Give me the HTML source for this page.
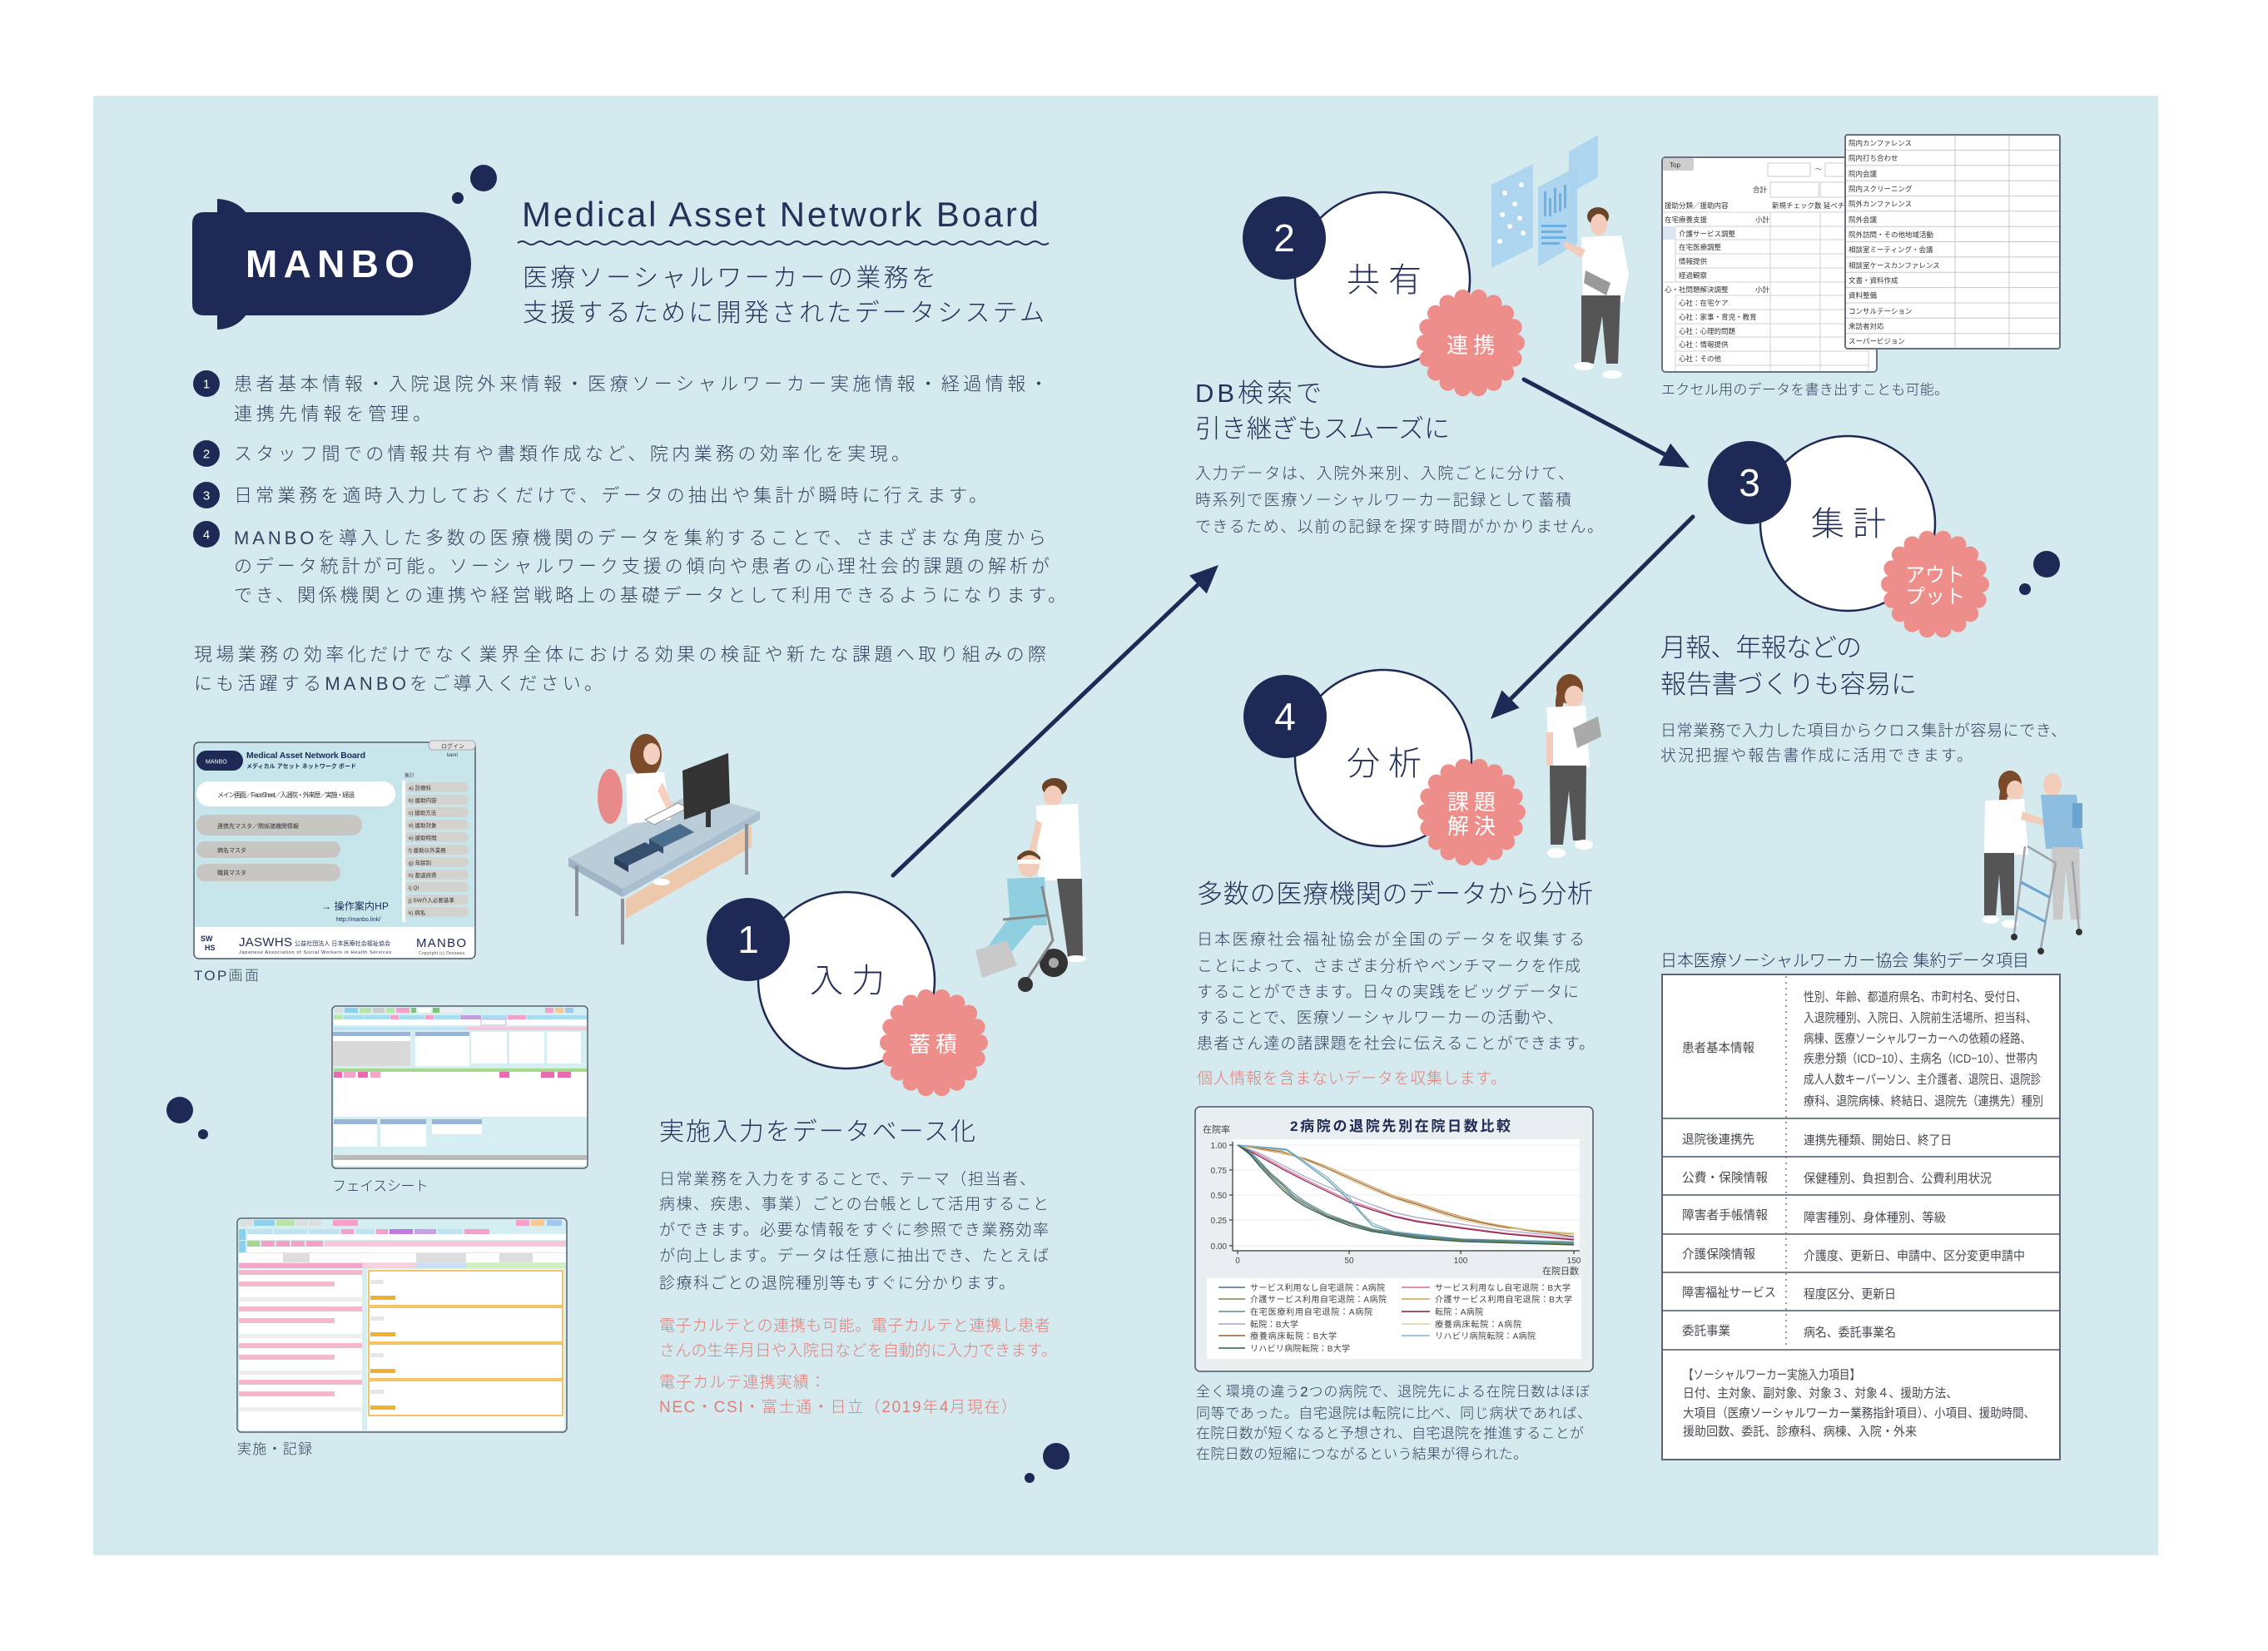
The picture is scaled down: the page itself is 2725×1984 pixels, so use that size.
<!DOCTYPE html>
<html lang="ja">
<head>
<meta charset="utf-8">
<title>MANBO - Medical Asset Network Board</title>
<style>
html,body{margin:0;padding:0;background:#fff;}
body{width:2725px;height:1979px;overflow:hidden;}
svg text{font-family:"Liberation Sans","Noto Sans CJK JP",sans-serif;}
.h{fill:#26315a;font-size:31px;font-weight:300;}
.b{fill:#34405e;font-size:19px;font-weight:300;}
.l{fill:#34405e;font-size:22px;font-weight:300;}
.p{fill:#e07f7b;font-size:19px;font-weight:300;}
.t{fill:#474b52;font-size:15px;}
.c{fill:#26315a;font-size:40px;font-weight:300;}
.w{fill:#fff;font-size:26px;}
.n{fill:#fff;font-size:46px;font-family:"Liberation Sans",sans-serif;}
.s{fill:#333;font-size:8.5px;}
.g{fill:#444;font-size:10px;}
</style>
</head>
<body>
<svg xmlns="http://www.w3.org/2000/svg" width="2725" height="1979" viewBox="0 0 2725 1979">
<defs>
<g id="badge" fill="#ee8e8b">
<circle r="57"/>
<circle cx="55" cy="0" r="10"/><circle cx="51.68" cy="18.81" r="10"/><circle cx="42.13" cy="35.35" r="10"/>
<circle cx="27.5" cy="47.63" r="10"/><circle cx="9.55" cy="54.16" r="10"/><circle cx="-9.55" cy="54.16" r="10"/>
<circle cx="-27.5" cy="47.63" r="10"/><circle cx="-42.13" cy="35.35" r="10"/><circle cx="-51.68" cy="18.81" r="10"/>
<circle cx="-55" cy="0" r="10"/><circle cx="-51.68" cy="-18.81" r="10"/><circle cx="-42.13" cy="-35.35" r="10"/>
<circle cx="-27.5" cy="-47.63" r="10"/><circle cx="-9.55" cy="-54.16" r="10"/><circle cx="9.55" cy="-54.16" r="10"/>
<circle cx="27.5" cy="-47.63" r="10"/><circle cx="42.13" cy="-35.35" r="10"/><circle cx="51.68" cy="-18.81" r="10"/>
</g>
</defs>

<!-- background panel -->
<rect x="0" y="0" width="2725" height="1979" fill="#ffffff"/>
<rect x="112" y="115" width="2481" height="1754" fill="#d4eaee"/>

<!-- ===== LOGO ===== -->
<path d="M245,255 L504,255 A62,62 0 0 1 504,379 L245,379 Q231,379 231,365 L231,269 Q231,255 245,255 Z" fill="#1e2a55"/>
<path d="M261,256 L261,239 Q284,240 296,256 Z" fill="#1e2a55"/>
<path d="M261,378 L261,396 Q284,395 296,378 Z" fill="#1e2a55"/>
<text x="295" y="333" font-size="46" font-weight="bold" fill="#ffffff" textLength="203" lengthAdjust="spacing" style="font-family:'Liberation Sans',sans-serif">MANBO</text>
<circle cx="581" cy="214" r="16" fill="#1e2a55"/>
<circle cx="550" cy="238" r="7" fill="#1e2a55"/>

<text x="627" y="272" font-size="42" fill="#26315a" textLength="621" lengthAdjust="spacing" style="font-family:'Liberation Sans',sans-serif">Medical Asset Network Board</text>
<path d="M622,292 q5.5,-4 11,0 t11,0 t11,0 t11,0 t11,0 t11,0 t11,0 t11,0 t11,0 t11,0 t11,0 t11,0 t11,0 t11,0 t11,0 t11,0 t11,0 t11,0 t11,0 t11,0 t11,0 t11,0 t11,0 t11,0 t11,0 t11,0 t11,0 t11,0 t11,0 t11,0 t11,0 t11,0 t11,0 t11,0 t11,0 t11,0 t11,0 t11,0 t11,0 t11,0 t11,0 t11,0 t11,0 t11,0 t11,0 t11,0 t11,0 t11,0 t11,0 t11,0 t11,0 t11,0 t11,0 t11,0 t11,0 t11,0 t11,0 t11,0" fill="none" stroke="#26315a" stroke-width="2"/>
<text x="628" y="344" class="h" style="font-size:30px" textLength="497">医療ソーシャルワーカーの業務を</text>
<text x="628" y="386" class="h" style="font-size:30px" textLength="627">支援するために開発されたデータシステム</text>

<!-- list -->
<g fill="#1e2a55">
<circle cx="248" cy="461" r="16"/><circle cx="248" cy="545" r="16"/><circle cx="248" cy="595" r="16"/><circle cx="248" cy="642" r="16"/>
</g>
<g font-size="15" fill="#fff" text-anchor="middle" style="font-family:'Liberation Sans',sans-serif">
<text x="248" y="466.5">1</text><text x="248" y="550.5">2</text><text x="248" y="600.5">3</text><text x="248" y="647.5">4</text>
</g>
<text x="281" y="469" class="l" textLength="978">患者基本情報・入院退院外来情報・医療ソーシャルワーカー実施情報・経過情報・</text>
<text x="281" y="505" class="l" textLength="237">連携先情報を管理。</text>
<text x="281" y="553" class="l" textLength="812">スタッフ間での情報共有や書類作成など、院内業務の効率化を実現。</text>
<text x="281" y="603" class="l" textLength="905">日常業務を適時入力しておくだけで、データの抽出や集計が瞬時に行えます。</text>
<text x="281" y="654" class="l" textLength="976">MANBOを導入した多数の医療機関のデータを集約することで、さまざまな角度から</text>
<text x="281" y="688" class="l" textLength="980">のデータ統計が可能。ソーシャルワーク支援の傾向や患者の心理社会的課題の解析が</text>
<text x="281" y="723" class="l" textLength="1000">でき、関係機関との連携や経営戦略上の基礎データとして利用できるようになります。</text>
<text x="233" y="794" class="l" textLength="1024">現場業務の効率化だけでなく業界全体における効果の検証や新たな課題へ取り組みの際</text>
<text x="233" y="829" class="l" textLength="491">にも活躍するMANBOをご導入ください。</text>

<!-- ===== TOP SCREEN ===== -->
<g>
<rect x="233" y="892" width="338" height="260" rx="6" fill="#c6e6eb" stroke="#555c6a" stroke-width="1.5"/>
<path d="M234,1114 L570,1114 L570,1146 Q570,1151 565,1151 L239,1151 Q234,1151 234,1146 Z" fill="#ffffff"/>
<rect x="236" y="902" width="56" height="24" rx="12" fill="#1e2a55"/>
<text x="247" y="917.5" font-size="7" fill="#fff">MANBO</text>
<text x="296" y="911" font-size="10.5" font-weight="bold" fill="#1e2a55" textLength="143">Medical Asset Network Board</text>
<text x="296" y="923" font-size="7" font-weight="bold" fill="#1e2a55" textLength="132">メディカル アセット ネットワーク ボード</text>
<rect x="515" y="890" width="56" height="11" rx="5" fill="#e4e4e4" stroke="#999" stroke-width="0.8"/>
<text x="530" y="899" font-size="7" fill="#333">ログイン</text>
<text x="537" y="909" font-size="6" fill="#333">kanri</text>
<rect x="236" y="939" width="239" height="30" rx="15" fill="#ffffff"/>
<text x="261" y="958" font-size="8" fill="#333" textLength="165">メイン画面／FaceSheet／入退院・外来歴／実施・経過</text>
<rect x="236" y="979" width="199" height="25" rx="12" fill="#c8c6c2"/>
<text x="261" y="995" font-size="7" fill="#333">連携先マスタ／関係諸機関情報</text>
<rect x="236" y="1011" width="173" height="20" rx="10" fill="#c8c6c2"/>
<text x="261" y="1024" font-size="7" fill="#333">病名マスタ</text>
<rect x="236" y="1038" width="173" height="21" rx="10" fill="#c8c6c2"/>
<text x="261" y="1051" font-size="7" fill="#333">職員マスタ</text>
<text x="486" y="934" font-size="6" fill="#555">集計</text>
<rect x="483" y="938" width="4" height="170" fill="#fff"/>
<g fill="#d4d2ce">
<rect x="487" y="940" width="76" height="12" rx="6"/><rect x="487" y="955" width="76" height="12" rx="6"/><rect x="487" y="970" width="76" height="12" rx="6"/>
<rect x="487" y="985" width="76" height="12" rx="6"/><rect x="487" y="1000" width="76" height="12" rx="6"/><rect x="487" y="1015" width="76" height="12" rx="6"/>
<rect x="487" y="1030" width="76" height="12" rx="6"/><rect x="487" y="1045" width="76" height="12" rx="6"/><rect x="487" y="1060" width="76" height="12" rx="6"/>
<rect x="487" y="1075" width="76" height="12" rx="6"/><rect x="487" y="1090" width="76" height="12" rx="6"/>
</g>
<g font-size="6.5" fill="#333">
<text x="491" y="949">a) 診療科</text><text x="491" y="964">b) 援助内容</text><text x="491" y="979">c) 援助方法</text>
<text x="491" y="994">d) 援助対象</text><text x="491" y="1009">e) 援助時間</text><text x="491" y="1024">f) 援助以外業務</text>
<text x="491" y="1039">g) 年齢別</text><text x="491" y="1054">h) 都道府県</text><text x="491" y="1069">i) QI</text>
<text x="491" y="1084">j) SW介入必要基準</text><text x="491" y="1099">k) 病名</text>
</g>
<text x="386" y="1093" font-size="12" fill="#1e2a55" textLength="81">→ 操作案内HP</text>
<text x="404" y="1107" font-size="7" fill="#1e2a55">http://manbo.link/</text>
<text x="241" y="1131" font-size="9" font-weight="bold" fill="#1e2a55">SW</text>
<text x="246" y="1142" font-size="9" font-weight="bold" fill="#1e2a55">HS</text>
<text x="287" y="1137" font-size="15" fill="#1e2a55" textLength="64">JASWHS</text>
<text x="354" y="1136" font-size="7" fill="#1e2a55" textLength="115">公益社団法人 日本医療社会福祉協会</text>
<text x="287" y="1146" font-size="5.5" fill="#1e2a55" textLength="183">Japanese Association of Social Workers in Health Services</text>
<text x="500" y="1138" font-size="15" fill="#1e2a55" textLength="60">MANBO</text>
<text x="503" y="1147" font-size="5" fill="#555" textLength="55">Copyright (c) Onozawa</text>
</g>
<text x="233" y="1178" class="b" style="font-size:17px" textLength="78">TOP画面</text>

<!-- ===== FACESHEET ===== -->
<g>
<rect x="399" y="1209" width="307" height="195" rx="5" fill="#d5eef2" stroke="#5a6070" stroke-width="1.5"/>
<rect x="402" y="1211" width="10" height="6" fill="#ddd"/><rect x="414" y="1211" width="16" height="6" fill="#8dd0ee"/>
<rect x="432" y="1211" width="14" height="6" fill="#b8e4a8"/><rect x="448" y="1211" width="14" height="6" fill="#ccc"/>
<rect x="464" y="1211" width="10" height="6" fill="#b8e4a8"/><rect x="476" y="1211" width="16" height="6" fill="#f4a0c8"/>
<rect x="494" y="1211" width="6" height="6" fill="#7fc76c"/><rect x="502" y="1211" width="16" height="6" fill="#fff"/>
<rect x="520" y="1211" width="8" height="6" fill="#7fc76c"/><rect x="530" y="1211" width="26" height="6" fill="#eee"/>
<rect x="655" y="1211" width="10" height="6" fill="#f4a0c8"/><rect x="667" y="1211" width="10" height="6" fill="#f7c890"/><rect x="679" y="1211" width="10" height="6" fill="#a0c8f0"/>
<rect x="401" y="1220" width="11" height="5" fill="#b5e6a8"/><rect x="413" y="1220" width="24" height="5" fill="#a8dcf0"/>
<rect x="438" y="1220" width="30" height="5" fill="#a8dcf0"/><rect x="469" y="1220" width="10" height="5" fill="#f4a0c8"/>
<rect x="480" y="1220" width="30" height="5" fill="#a8dcf0"/><rect x="511" y="1220" width="10" height="5" fill="#f4a0c8"/>
<rect x="522" y="1220" width="30" height="5" fill="#a8dcf0"/><rect x="553" y="1220" width="25" height="5" fill="#c59be0"/>
<rect x="579" y="1220" width="30" height="5" fill="#a8dcf0"/><rect x="610" y="1220" width="22" height="5" fill="#f4a0c8"/>
<rect x="633" y="1220" width="72" height="5" fill="#a8dcf0"/>
<rect x="401" y="1225" width="304" height="7" fill="#fff"/>
<rect x="578" y="1225" width="30" height="7" fill="none" stroke="#c59be0" stroke-width="0.8"/>
<rect x="401" y="1234" width="159" height="4" fill="#bfe3f0"/><rect x="560" y="1234" width="145" height="4" fill="#f7c6d8"/>
<rect x="400" y="1240" width="93" height="5" fill="#9ab4d6"/><rect x="400" y="1245" width="93" height="36" fill="#d9d9d9"/>
<rect x="400" y="1245" width="93" height="6" fill="#fff"/>
<rect x="499" y="1240" width="65" height="5" fill="#9ab4d6"/><rect x="499" y="1245" width="65" height="36" fill="#fff"/>
<rect x="566" y="1240" width="43" height="38" fill="#fff"/><rect x="612" y="1240" width="42" height="38" fill="#fff"/><rect x="657" y="1240" width="41" height="38" fill="#fff"/>
<rect x="401" y="1284" width="304" height="4" fill="#a5d98e"/>
<rect x="401" y="1288" width="304" height="7" fill="#fff"/>
<rect x="401" y="1288" width="10" height="7" fill="#e86ab0"/><rect x="413" y="1288" width="14" height="7" fill="#f4a6c8"/>
<rect x="430" y="1288" width="12" height="7" fill="#e86ab0"/><rect x="445" y="1288" width="12" height="7" fill="#f4a6c8"/>
<rect x="600" y="1288" width="12" height="7" fill="#e86ab0"/><rect x="650" y="1288" width="16" height="7" fill="#e86ab0"/><rect x="670" y="1288" width="16" height="7" fill="#e86ab0"/>
<rect x="401" y="1295" width="304" height="47" fill="#fff"/>
<rect x="401" y="1345" width="52" height="6" fill="#9ab4d6"/><rect x="401" y="1351" width="52" height="27" fill="#fff"/>
<rect x="457" y="1345" width="55" height="6" fill="#9ab4d6"/><rect x="457" y="1351" width="55" height="27" fill="#fff"/>
<rect x="519" y="1345" width="60" height="6" fill="#9ab4d6"/><rect x="519" y="1351" width="60" height="12" fill="#fff"/>
<rect x="401" y="1388" width="304" height="6" fill="#bbbbbb"/><rect x="401" y="1394" width="304" height="7" fill="#fff"/>
</g>
<text x="399" y="1431" class="b" style="font-size:17px" textLength="116">フェイスシート</text>

<!-- ===== RECORD SCREEN ===== -->
<g>
<rect x="285" y="1464" width="396" height="257" rx="5" fill="#d5eef2" stroke="#5a6070" stroke-width="1.5"/>
<rect x="289" y="1466" width="14" height="7" fill="#ddd"/><rect x="305" y="1466" width="25" height="7" fill="#8dd0ee"/>
<rect x="332" y="1466" width="22" height="7" fill="#b8e4a8"/><rect x="356" y="1466" width="14" height="7" fill="#ddd"/>
<rect x="372" y="1466" width="14" height="7" fill="#ddd"/><rect x="400" y="1466" width="30" height="7" fill="#f4a0c8"/>
<rect x="620" y="1466" width="16" height="7" fill="#f4a0c8"/><rect x="638" y="1466" width="16" height="7" fill="#f7c890"/><rect x="657" y="1466" width="18" height="7" fill="#a0c8f0"/>
<rect x="287" y="1477" width="8" height="13" fill="#8dd0ee"/>
<rect x="297" y="1477" width="30" height="6" fill="#bfe3f0"/><rect x="329" y="1477" width="40" height="6" fill="#bfe3f0"/>
<rect x="371" y="1477" width="37" height="6" fill="#bfe3f0"/><rect x="410" y="1477" width="15" height="6" fill="#f4a0c8"/>
<rect x="428" y="1477" width="22" height="6" fill="#bfe3f0"/><rect x="452" y="1477" width="14" height="6" fill="#f4a0c8"/>
<rect x="468" y="1477" width="28" height="6" fill="#c07ae0"/><rect x="498" y="1477" width="26" height="6" fill="#c8a0e8"/>
<rect x="526" y="1477" width="30" height="6" fill="#bfe3f0"/><rect x="558" y="1477" width="30" height="6" fill="#f4a0c8"/>
<rect x="297" y="1483" width="383" height="7" fill="#fff"/>
<rect x="287" y="1491" width="8" height="14" fill="#8dd0ee"/><rect x="297" y="1491" width="15" height="7" fill="#a5d98e"/>
<rect x="314" y="1491" width="16" height="7" fill="#f4a0c8"/><rect x="332" y="1491" width="16" height="7" fill="#f4a0c8"/>
<rect x="350" y="1491" width="16" height="7" fill="#f4a0c8"/><rect x="368" y="1491" width="20" height="7" fill="#f4a0c8"/>
<rect x="390" y="1491" width="290" height="7" fill="#f9c8dc"/>
<rect x="297" y="1498" width="383" height="7" fill="#fff"/>
<rect x="287" y="1506" width="393" height="11" fill="#fff"/>
<rect x="340" y="1506" width="32" height="11" fill="#ddd"/><rect x="500" y="1506" width="60" height="11" fill="#ddd"/><rect x="600" y="1506" width="40" height="11" fill="#ddd"/>
<rect x="287" y="1518" width="148" height="6" fill="#f4a6c8"/><rect x="435" y="1518" width="65" height="6" fill="#f9d0e0"/>
<rect x="500" y="1518" width="60" height="6" fill="#c8dff5"/><rect x="560" y="1518" width="120" height="6" fill="#d0f0c0"/>
<rect x="287" y="1525" width="148" height="194" fill="#fff"/>
<g fill="#f4b8cc">
<rect x="287" y="1526" width="148" height="6"/><rect x="287" y="1540" width="115" height="6"/><rect x="287" y="1559" width="148" height="5" fill="#eee"/>
<rect x="287" y="1570" width="148" height="6"/><rect x="287" y="1584" width="115" height="6"/><rect x="287" y="1603" width="148" height="5" fill="#eee"/>
<rect x="287" y="1614" width="148" height="6"/><rect x="287" y="1628" width="115" height="6"/><rect x="287" y="1647" width="148" height="5" fill="#eee"/>
<rect x="287" y="1658" width="148" height="6"/><rect x="287" y="1672" width="115" height="6"/><rect x="287" y="1691" width="148" height="5" fill="#eee"/>
</g>
<rect x="441" y="1525" width="237" height="194" fill="#fff"/>
<g fill="none" stroke="#f0b030" stroke-width="1.5">
<rect x="443" y="1527" width="233" height="42"/><rect x="443" y="1571" width="233" height="42"/>
<rect x="443" y="1615" width="233" height="42"/><rect x="443" y="1659" width="233" height="42"/>
</g>
<g fill="#f0b030">
<rect x="445" y="1557" width="30" height="5"/><rect x="445" y="1601" width="30" height="5"/><rect x="445" y="1645" width="30" height="5"/><rect x="445" y="1689" width="30" height="5"/>
</g>
<g fill="#e6e6e6">
<rect x="445" y="1538" width="16" height="5"/><rect x="445" y="1582" width="16" height="5"/><rect x="445" y="1626" width="16" height="5"/><rect x="445" y="1670" width="16" height="5"/>
</g>
</g>
<text x="285" y="1747" class="b" style="font-size:17px" textLength="90">実施・記録</text>

<!-- dots -->
<circle cx="216" cy="1334" r="16" fill="#1e2a55"/><circle cx="244" cy="1363" r="6" fill="#1e2a55"/>
<circle cx="1269" cy="1750" r="16" fill="#1e2a55"/><circle cx="1237" cy="1776" r="6" fill="#1e2a55"/>
<circle cx="2459" cy="678" r="16" fill="#1e2a55"/><circle cx="2433" cy="708" r="7" fill="#1e2a55"/>

<!-- ===== ARROWS ===== -->
<g stroke="#1e2a55" stroke-width="5" stroke-linecap="round">
<line x1="1073" y1="1052" x2="1440" y2="702"/>
<line x1="1831" y1="456" x2="2000" y2="546"/>
<line x1="2034" y1="621" x2="1815" y2="840"/>
</g>
<g fill="#1e2a55">
<polygon points="1464,679 1449.8,713.4 1429,691.6"/>
<polygon points="2030,562 1992.9,559.2 2007.1,532.8"/>
<polygon points="1791,864 1825.6,850.6 1804.4,829.4"/>
</g>

<!-- ===== ILLUSTRATION: desk woman ===== -->
<g>
<ellipse cx="733" cy="957" rx="15" ry="33" fill="#e98a8a"/>
<polygon points="683,1031 832,953 913,975 748,1068" fill="#b9ccd8"/>
<polygon points="683,1031 748,1068 748,1078 683,1041" fill="#9fb5c5"/>
<polygon points="748,1068 913,975 913,985 748,1078" fill="#a9bfcf"/>
<polygon points="752,1080 903,992 903,1018 752,1104" fill="#ecc9ac"/>
<g stroke="#8a8f98" stroke-width="4">
<line x1="693" y1="1040" x2="693" y2="1101"/><line x1="748" y1="1080" x2="748" y2="1135"/><line x1="897" y1="990" x2="897" y2="1051"/>
</g>
<ellipse cx="776" cy="908" rx="19" ry="26" fill="#7a4a2a"/>
<ellipse cx="783" cy="906" rx="10" ry="13" fill="#f5d0c0"/>
<path d="M752,930 L798,928 L806,985 L754,990 Z" fill="#ffffff"/>
<path d="M796,940 L812,975 L805,980 L790,950 Z" fill="#f5d0c0"/>
<polygon points="775,985 815,965 826,971 786,991" fill="#fff" stroke="#999" stroke-width="1"/>
<polygon points="820,926 875,905 877,965 822,985" fill="#333"/>
<rect x="848" y="972" width="6" height="22" fill="#333"/>
<polygon points="738,1030 775,1012 792,1022 755,1040" fill="#35506e"/>
<polygon points="738,1030 755,1040 755,1048 738,1038" fill="#2a4058"/>
<polygon points="780,1008 817,990 834,1000 797,1018" fill="#4a6d8e"/>
<polygon points="780,1008 797,1018 797,1026 780,1016" fill="#35506e"/>
<ellipse cx="795" cy="1060" rx="10" ry="4" fill="#fff"/>
</g>

<!-- ===== ILLUSTRATION: wheelchair ===== -->
<g>
<ellipse cx="1267" cy="946" rx="15" ry="11" fill="#6b4428"/>
<ellipse cx="1265" cy="957" rx="11" ry="13" fill="#f3cdbb"/>
<path d="M1245,968 L1295,966 L1299,1058 L1248,1058 Z" fill="#ffffff"/>
<path d="M1270,1056 L1300,1056 L1301,1150 L1283,1150 Z" fill="#555"/>
<ellipse cx="1293" cy="1152" rx="12" ry="4" fill="#fff"/>
<path d="M1245,985 L1232,1040 L1240,1042 L1252,990 Z" fill="#f3cdbb"/>
<circle cx="1266" cy="1157" r="17" fill="#333"/><circle cx="1266" cy="1157" r="6" fill="#aaa"/>
<path d="M1210,1056 L1255,1054 L1258,1112 L1214,1112 Z" fill="#8fcfe0"/>
<ellipse cx="1236" cy="1040" rx="13" ry="14" fill="#f3cdbb"/>
<path d="M1223,1036 Q1236,1020 1250,1034 L1250,1030 Q1236,1014 1222,1030 Z" fill="#6b4428"/>
<rect x="1223" y="1033" width="27" height="5" fill="#fff"/>
<path d="M1214,1100 L1252,1100 L1210,1150 L1185,1140 Z" fill="#8fcfe0"/>
<path d="M1172,1142 L1210,1130 L1222,1160 L1180,1175 Z" fill="#c9c9c9"/>
<g stroke="#888" stroke-width="3" fill="none">
<path d="M1252,1065 L1265,1130 L1232,1180"/><path d="M1205,1105 L1258,1100"/>
</g>
<circle cx="1232" cy="1183" r="9" fill="#333"/>
</g>

<!-- ===== ILLUSTRATION: step2 man + panels ===== -->
<g>
<polygon points="1792,222 1842,197 1842,297 1792,322" fill="#a9d3f0" opacity="0.9"/>
<polygon points="1848,225 1895,200 1895,293 1848,320" fill="#a9d3f0" opacity="0.9"/>
<polygon points="1885,182 1920,162 1920,213 1885,233" fill="#a9d3f0" opacity="0.9"/>
<g fill="#ffffff">
<circle cx="1802" cy="290" r="3"/><circle cx="1814" cy="272" r="3"/><circle cx="1805" cy="258" r="3"/><circle cx="1820" cy="245" r="3"/>
<circle cx="1808" cy="232" r="3"/><circle cx="1828" cy="222" r="3"/><circle cx="1830" cy="280" r="3"/><circle cx="1826" cy="262" r="3"/>
</g>
<g fill="#6cb0e6">
<rect x="1855" y="230" width="3" height="30"/><rect x="1861" y="238" width="3" height="22"/><rect x="1867" y="226" width="3" height="30"/><rect x="1873" y="232" width="3" height="22"/><rect x="1879" y="222" width="3" height="28"/>
<rect x="1852" y="270" width="30" height="3"/><rect x="1852" y="277" width="26" height="3"/><rect x="1852" y="284" width="30" height="3"/><rect x="1852" y="291" width="22" height="3"/>
</g>
<ellipse cx="1920" cy="260" rx="13" ry="11" fill="#6b4428"/>
<ellipse cx="1921" cy="270" rx="10" ry="13" fill="#f3cdbb"/>
<path d="M1900,285 L1948,283 L1957,330 L1950,363 L1902,360 Z" fill="#ffffff"/>
<path d="M1905,300 L1880,290 L1878,296 L1900,310 Z" fill="#f3cdbb"/>
<polygon points="1905,325 1935,340 1930,355 1903,340" fill="#9a9a9a"/>
<path d="M1900,355 L1947,355 L1944,437 L1930,437 L1925,380 L1915,437 L1900,437 Z" fill="#555"/>
<ellipse cx="1903" cy="440" rx="12" ry="5" fill="#fff"/><ellipse cx="1937" cy="450" rx="12" ry="5" fill="#fff"/>
</g>

<!-- ===== ILLUSTRATION: step4 woman ===== -->
<g>
<ellipse cx="1886" cy="828" rx="16" ry="18" fill="#7a4a2a"/>
<path d="M1872,828 Q1865,850 1874,860 L1880,840 Z" fill="#7a4a2a"/>
<ellipse cx="1891" cy="837" rx="11" ry="13" fill="#f3cdbb"/>
<path d="M1858,850 L1905,848 L1910,922 L1862,925 Z" fill="#ffffff"/>
<rect x="1858" y="880" width="8" height="40" fill="#f3cdbb"/>
<polygon points="1890,875 1920,861 1924,885 1895,899" fill="#aaaaaa"/>
<path d="M1862,920 L1906,920 L1905,1010 L1890,1010 L1885,950 L1878,1015 L1863,1015 Z" fill="#555"/>
<ellipse cx="1870" cy="1025" rx="11" ry="6" fill="#fff"/><ellipse cx="1903" cy="1015" rx="11" ry="6" fill="#fff"/>
</g>

<!-- ===== ILLUSTRATION: step3 nurse + walker ===== -->
<g>
<ellipse cx="2415" cy="942" rx="14" ry="16" fill="#7a4a2a"/>
<path d="M2404,945 Q2398,975 2408,985 L2412,955 Z" fill="#7a4a2a"/>
<ellipse cx="2421" cy="950" rx="10" ry="12" fill="#f3cdbb"/>
<path d="M2385,962 L2432,960 L2437,1027 L2384,1027 Z" fill="#ffffff"/>
<path d="M2430,975 L2458,985 L2456,992 L2428,985 Z" fill="#f3cdbb"/>
<path d="M2384,1025 L2420,1025 L2420,1100 L2405,1100 L2402,1050 L2398,1100 L2384,1100 Z" fill="#555"/>
<ellipse cx="2392" cy="1105" rx="10" ry="5" fill="#fff"/><ellipse cx="2415" cy="1110" rx="10" ry="5" fill="#fff"/>
<ellipse cx="2466" cy="943" rx="11" ry="14" fill="#f3cdbb"/>
<path d="M2452,955 L2495,955 L2503,1020 L2458,1020 Z" fill="#8dbee0"/>
<rect x="2490" y="965" width="12" height="30" fill="#6ba4cf"/>
<path d="M2465,1018 L2498,1018 L2500,1105 L2488,1105 L2482,1045 L2478,1105 L2467,1105 Z" fill="#c9c9c9"/>
<g stroke="#a0a4aa" stroke-width="2.5" fill="none">
<line x1="2433" y1="1017" x2="2420" y2="1123"/><line x1="2470" y1="1037" x2="2452" y2="1140"/>
<line x1="2490" y1="1035" x2="2498" y2="1118"/><line x1="2436" y1="1017" x2="2470" y2="1037"/>
</g>
<g stroke="#6ba4cf" stroke-width="3">
<line x1="2428" y1="1060" x2="2462" y2="1078"/><line x1="2424" y1="1090" x2="2458" y2="1108"/>
</g>
<circle cx="2420" cy="1126" r="4" fill="#333"/><circle cx="2452" cy="1143" r="4" fill="#333"/><circle cx="2498" cy="1120" r="4" fill="#333"/>
</g>

<!-- ===== SPREADSHEETS ===== -->
<g>
<rect x="1997" y="189" width="258" height="258" rx="4" fill="#ffffff" stroke="#6a7080" stroke-width="2"/>
<rect x="1998" y="190" width="37" height="15" rx="2" fill="#cfcfcf"/>
<text x="2006" y="201" font-size="8" fill="#333">Top</text>
<rect x="2124" y="196" width="51" height="16" fill="#fff" stroke="#ccc"/><rect x="2193" y="196" width="50" height="16" fill="#fff" stroke="#ccc"/>
<text x="2181" y="206" font-size="8" fill="#555">～</text>
<text x="2106" y="231" class="s">合計</text>
<rect x="2127" y="219" width="58" height="18" fill="#fff" stroke="#ccc"/><rect x="2187" y="219" width="58" height="18" fill="#fff" stroke="#ccc"/>
<text x="2000" y="250" class="s" fill="#777">援助分類／援助内容</text>
<text x="2129" y="250" class="s" fill="#777">新規チェック数 延べチェ</text>
<g stroke="#d0d0d0" stroke-width="1">
<line x1="1998" y1="255" x2="2245" y2="255"/><line x1="2013" y1="272" x2="2245" y2="272"/><line x1="2013" y1="288" x2="2245" y2="288"/>
<line x1="2013" y1="305" x2="2245" y2="305"/><line x1="2013" y1="322" x2="2245" y2="322"/><line x1="1998" y1="339" x2="2245" y2="339"/>
<line x1="2013" y1="355" x2="2245" y2="355"/><line x1="2013" y1="372" x2="2245" y2="372"/><line x1="2013" y1="389" x2="2245" y2="389"/>
<line x1="2013" y1="405" x2="2245" y2="405"/><line x1="2013" y1="422" x2="2245" y2="422"/><line x1="2013" y1="439" x2="2245" y2="439"/>
<line x1="2127" y1="255" x2="2127" y2="446"/><line x1="2187" y1="255" x2="2187" y2="446"/><line x1="2245" y1="255" x2="2245" y2="446"/>
<line x1="2013" y1="272" x2="2013" y2="339"/><line x1="2013" y1="355" x2="2013" y2="446"/>
</g>
<rect x="1998" y="272" width="15" height="16" fill="#dde6f0"/>
<text x="2000" y="267" class="s">在宅療養支援</text><text x="2109" y="267" class="s" fill="#777">小計</text>
<text x="2017" y="284" class="s">介護サービス調整</text>
<text x="2017" y="300" class="s">在宅医療調整</text>
<text x="2017" y="317" class="s">情報提供</text>
<text x="2017" y="334" class="s">経過観察</text>
<text x="2000" y="351" class="s">心・社問題解決調整</text><text x="2109" y="351" class="s" fill="#777">小計</text>
<text x="2017" y="367" class="s">心社：在宅ケア</text>
<text x="2017" y="384" class="s">心社：家事・育児・教育</text>
<text x="2017" y="401" class="s">心社：心理的問題</text>
<text x="2017" y="417" class="s">心社：情報提供</text>
<text x="2017" y="434" class="s">心社：その他</text>
</g>
<g>
<rect x="2217" y="162" width="258" height="257" rx="3" fill="#ffffff" stroke="#6a7080" stroke-width="2"/>
<g stroke="#c8c8c8" stroke-width="1">
<line x1="2218" y1="180.4" x2="2474" y2="180.4"/><line x1="2218" y1="198.7" x2="2474" y2="198.7"/><line x1="2218" y1="217.1" x2="2474" y2="217.1"/>
<line x1="2218" y1="235.4" x2="2474" y2="235.4"/><line x1="2218" y1="253.8" x2="2474" y2="253.8"/><line x1="2218" y1="272.2" x2="2474" y2="272.2"/>
<line x1="2218" y1="290.5" x2="2474" y2="290.5"/><line x1="2218" y1="308.9" x2="2474" y2="308.9"/><line x1="2218" y1="327.2" x2="2474" y2="327.2"/>
<line x1="2218" y1="345.6" x2="2474" y2="345.6"/><line x1="2218" y1="364" x2="2474" y2="364"/><line x1="2218" y1="382.3" x2="2474" y2="382.3"/>
<line x1="2218" y1="400.7" x2="2474" y2="400.7"/>
<line x1="2349" y1="163" x2="2349" y2="418"/><line x1="2414" y1="163" x2="2414" y2="418"/>
</g>
<g>
<text x="2221" y="175" class="s">院内カンファレンス</text><text x="2221" y="193" class="s">院内打ち合わせ</text>
<text x="2221" y="212" class="s">院内会議</text><text x="2221" y="230" class="s">院内スクリーニング</text>
<text x="2221" y="248" class="s">院外カンファレンス</text><text x="2221" y="267" class="s">院外会議</text>
<text x="2221" y="285" class="s">院外訪問・その他地域活動</text><text x="2221" y="303" class="s">相談室ミーティング・会議</text>
<text x="2221" y="322" class="s">相談室ケースカンファレンス</text><text x="2221" y="340" class="s">文書・資料作成</text>
<text x="2221" y="358" class="s">資料整備</text><text x="2221" y="377" class="s">コンサルテーション</text>
<text x="2221" y="395" class="s">来訪者対応</text><text x="2221" y="413" class="s">スーパービジョン</text>
</g>
</g>
<text x="1996" y="474" class="b" style="font-size:17px" textLength="345">エクセル用のデータを書き出すことも可能。</text>

<!-- ===== STEP CIRCLES ===== -->
<!-- step 1 -->
<circle cx="1017" cy="1178" r="106" fill="#ffffff" stroke="#1e2a55" stroke-width="2.5"/>
<circle cx="899" cy="1129" r="50" fill="#1e2a55"/>
<text x="899" y="1145" class="n" text-anchor="middle">1</text>
<text x="973" y="1192" class="c" textLength="90">入力</text>
<use href="#badge" x="1122" y="1253"/>
<text x="1092" y="1264" class="w" textLength="58">蓄積</text>
<!-- step 2 -->
<circle cx="1661" cy="336" r="105" fill="#ffffff" stroke="#1e2a55" stroke-width="2.5"/>
<circle cx="1543" cy="286" r="50" fill="#1e2a55"/>
<text x="1543" y="302" class="n" text-anchor="middle">2</text>
<text x="1618" y="350" class="c" textLength="90">共有</text>
<use href="#badge" x="1767" y="412"/>
<text x="1738" y="424" class="w" textLength="58">連携</text>
<!-- step 3 -->
<circle cx="2220" cy="629" r="105" fill="#ffffff" stroke="#1e2a55" stroke-width="2.5"/>
<circle cx="2102" cy="580" r="50" fill="#1e2a55"/>
<text x="2102" y="596" class="n" text-anchor="middle">3</text>
<text x="2176" y="643" class="c" textLength="90">集計</text>
<use href="#badge" x="2325" y="702"/>
<text x="2289" y="699" class="w" style="font-size:24px" textLength="72">アウト</text>
<text x="2289" y="725" class="w" style="font-size:24px" textLength="72">プット</text>
<!-- step 4 -->
<circle cx="1662" cy="911" r="106" fill="#ffffff" stroke="#1e2a55" stroke-width="2.5"/>
<circle cx="1544" cy="861" r="50" fill="#1e2a55"/>
<text x="1544" y="877" class="n" text-anchor="middle">4</text>
<text x="1618" y="931" class="c" textLength="90">分析</text>
<use href="#badge" x="1768" y="976"/>
<text x="1739" y="973" class="w" textLength="58">課題</text>
<text x="1739" y="1002" class="w" textLength="58">解決</text>

<!-- ===== STEP TEXTS ===== -->
<text x="1436" y="483" class="h" textLength="152">DB検索で</text>
<text x="1436" y="526" class="h" textLength="306">引き継ぎもスムーズに</text>
<text x="1436" y="575" class="b" textLength="455">入力データは、入院外来別、入院ごとに分けて、</text>
<text x="1436" y="607" class="b" textLength="452">時系列で医療ソーシャルワーカー記録として蓄積</text>
<text x="1436" y="639" class="b" textLength="490">できるため、以前の記録を探す時間がかかりません。</text>

<text x="1995" y="789" class="h" textLength="242">月報、年報などの</text>
<text x="1995" y="833" class="h" textLength="308">報告書づくりも容易に</text>
<text x="1995" y="884" class="b" textLength="488">日常業務で入力した項目からクロス集計が容易にでき、</text>
<text x="1995" y="914" class="b" textLength="375">状況把握や報告書作成に活用できます。</text>

<text x="792" y="1370" class="h" style="font-size:30px" textLength="380">実施入力をデータベース化</text>
<text x="792" y="1423" class="b" textLength="452">日常業務を入力をすることで、テーマ（担当者、</text>
<text x="792" y="1453" class="b" textLength="468">病棟、疾患、事業）ごとの台帳として活用すること</text>
<text x="792" y="1484" class="b" textLength="468">ができます。必要な情報をすぐに参照でき業務効率</text>
<text x="792" y="1515" class="b" textLength="468">が向上します。データは任意に抽出でき、たとえば</text>
<text x="792" y="1548" class="b" textLength="427">診療科ごとの退院種別等もすぐに分かります。</text>
<text x="792" y="1599" class="p" textLength="470">電子カルテとの連携も可能。電子カルテと連携し患者</text>
<text x="792" y="1629" class="p" textLength="478">さんの生年月日や入院日などを自動的に入力できます。</text>
<text x="792" y="1667" class="p" textLength="200">電子カルテ連携実績：</text>
<text x="792" y="1697" class="p" textLength="430">NEC・CSI・富士通・日立（2019年4月現在）</text>

<text x="1438" y="1085" class="h" textLength="476">多数の医療機関のデータから分析</text>
<text x="1438" y="1135" class="b" textLength="466">日本医療社会福祉協会が全国のデータを収集する</text>
<text x="1438" y="1167" class="b" textLength="461">ことによって、さまざま分析やベンチマークを作成</text>
<text x="1438" y="1198" class="b" textLength="459">することができます。日々の実践をビッグデータに</text>
<text x="1438" y="1229" class="b" textLength="440">することで、医療ソーシャルワーカーの活動や、</text>
<text x="1438" y="1260" class="b" textLength="478">患者さん達の諸課題を社会に伝えることができます。</text>
<text x="1438" y="1302" class="p" textLength="372">個人情報を含まないデータを収集します。</text>

<!-- ===== CHART ===== -->
<g>
<rect x="1436" y="1330" width="478" height="318" rx="6" fill="#e9eef0" stroke="#4a5568" stroke-width="1.5"/>
<text x="1550" y="1359" font-size="17" font-weight="bold" fill="#1e2a55" textLength="265">2病院の退院先別在院日数比較</text>
<text x="1445" y="1361" font-size="11" fill="#444">在院率</text>
<rect x="1481" y="1369" width="417" height="134" fill="#ffffff"/>
<g stroke="#eeeeee" stroke-width="1">
<line x1="1481" y1="1376" x2="1898" y2="1376"/><line x1="1481" y1="1406" x2="1898" y2="1406"/>
<line x1="1481" y1="1436" x2="1898" y2="1436"/><line x1="1481" y1="1466" x2="1898" y2="1466"/><line x1="1481" y1="1497" x2="1898" y2="1497"/>
</g>
<g stroke="#333" stroke-width="1.2">
<line x1="1481" y1="1372" x2="1481" y2="1503"/><line x1="1481" y1="1503" x2="1898" y2="1503"/>
<line x1="1477" y1="1376" x2="1481" y2="1376"/><line x1="1477" y1="1406" x2="1481" y2="1406"/><line x1="1477" y1="1436" x2="1481" y2="1436"/>
<line x1="1477" y1="1466" x2="1481" y2="1466"/><line x1="1477" y1="1497" x2="1481" y2="1497"/>
<line x1="1487" y1="1503" x2="1487" y2="1507"/><line x1="1621" y1="1503" x2="1621" y2="1507"/>
<line x1="1755" y1="1503" x2="1755" y2="1507"/><line x1="1891" y1="1503" x2="1891" y2="1507"/>
</g>
<g font-size="10" fill="#444" text-anchor="end">
<text x="1474" y="1380">1.00</text><text x="1474" y="1410">0.75</text><text x="1474" y="1440">0.50</text><text x="1474" y="1470">0.25</text><text x="1474" y="1501">0.00</text>
</g>
<g font-size="10" fill="#444" text-anchor="middle">
<text x="1487" y="1518">0</text><text x="1621" y="1518">50</text><text x="1755" y="1518">100</text><text x="1891" y="1518">150</text>
</g>
<text x="1897" y="1531" font-size="11" fill="#444" text-anchor="end">在院日数</text>
<g fill="none" stroke-width="1.2">
<polyline stroke="#9a5a30" points="1487,1376 1514,1380 1541,1384 1568,1393 1595,1404 1622,1416 1649,1428 1675,1439 1702,1447 1729,1456 1756,1464 1783,1470 1810,1475 1837,1479 1864,1482 1891,1486"/>
<polyline stroke="#d0a050" points="1487,1376 1514,1381 1541,1386 1568,1392 1595,1402 1622,1414 1649,1426 1675,1437 1702,1445 1729,1454 1756,1462 1783,1469 1810,1474 1837,1478 1864,1481 1891,1483"/>
<polyline stroke="#d8d0a0" points="1487,1376 1514,1379 1541,1383 1568,1394 1595,1405 1622,1418 1649,1430 1675,1440 1702,1449 1729,1458 1756,1466 1783,1472 1810,1476 1837,1478 1864,1480 1891,1482"/>
<polyline stroke="#d07090" points="1487,1376 1514,1388 1541,1403 1568,1417 1595,1430 1622,1443 1649,1452 1675,1461 1702,1467 1756,1475 1810,1482 1891,1489"/>
<polyline stroke="#8a1a40" points="1487,1376 1514,1390 1541,1405 1568,1419 1595,1432 1622,1445 1649,1454 1675,1462 1702,1468 1756,1476 1810,1483 1891,1490"/>
<polyline stroke="#a9a0d0" points="1487,1376 1514,1386 1541,1400 1568,1414 1595,1426 1622,1437 1649,1448 1675,1457 1702,1463 1756,1471 1810,1479 1891,1487"/>
<polyline stroke="#5a9aa0" points="1487,1376 1527,1380 1546,1382 1568,1398 1595,1418 1622,1443 1635,1458 1649,1473 1675,1481 1756,1490 1891,1493"/>
<polyline stroke="#80b0d0" points="1487,1376 1527,1379 1546,1381 1568,1396 1595,1415 1622,1440 1635,1456 1649,1470 1675,1480 1756,1489 1891,1492"/>
<polyline stroke="#4d6b8a" points="1487,1376 1500,1384 1514,1398 1527,1412 1541,1424 1554,1437 1568,1446 1595,1461 1622,1470 1649,1478 1702,1486 1756,1490 1891,1495"/>
<polyline stroke="#7a8a4a" points="1487,1376 1500,1386 1514,1400 1527,1414 1541,1427 1554,1439 1568,1448 1595,1462 1622,1471 1649,1479 1702,1487 1756,1491 1891,1495"/>
<polyline stroke="#5a8a8a" points="1487,1376 1500,1382 1514,1396 1527,1410 1541,1422 1554,1434 1568,1444 1595,1459 1622,1469 1649,1477 1702,1485 1756,1489 1891,1494"/>
<polyline stroke="#2a5a5a" points="1487,1376 1500,1385 1514,1402 1527,1416 1541,1430 1554,1441 1568,1450 1595,1463 1622,1473 1649,1480 1702,1488 1756,1492 1891,1496"/>
</g>
<rect x="1450" y="1536" width="450" height="97" fill="#ffffff"/>
<g stroke-width="1.5">
<line x1="1464" y1="1547" x2="1496" y2="1547" stroke="#4d6b8a"/>
<line x1="1464" y1="1561" x2="1496" y2="1561" stroke="#7a8a4a"/>
<line x1="1464" y1="1576" x2="1496" y2="1576" stroke="#5a8a8a"/>
<line x1="1464" y1="1591" x2="1496" y2="1591" stroke="#a9a0d0"/>
<line x1="1464" y1="1605" x2="1496" y2="1605" stroke="#9a5a30"/>
<line x1="1464" y1="1620" x2="1496" y2="1620" stroke="#2a5a5a"/>
<line x1="1684" y1="1547" x2="1718" y2="1547" stroke="#d07090"/>
<line x1="1684" y1="1561" x2="1718" y2="1561" stroke="#d0a050"/>
<line x1="1684" y1="1576" x2="1718" y2="1576" stroke="#8a1a40"/>
<line x1="1684" y1="1591" x2="1718" y2="1591" stroke="#d8d0a0"/>
<line x1="1684" y1="1605" x2="1718" y2="1605" stroke="#80b0d0"/>
</g>
<text x="1502" y="1551" class="g" textLength="162">サービス利用なし自宅退院：A病院</text>
<text x="1502" y="1565" class="g" textLength="164">介護サービス利用自宅退院：A病院</text>
<text x="1502" y="1580" class="g" textLength="147">在宅医療利用自宅退院：A病院</text>
<text x="1502" y="1595" class="g" textLength="58">転院：B大学</text>
<text x="1502" y="1609" class="g" textLength="104">療養病床転院：B大学</text>
<text x="1502" y="1624" class="g" textLength="120">リハビリ病院転院：B大学</text>
<text x="1724" y="1551" class="g" textLength="163">サービス利用なし自宅退院：B大学</text>
<text x="1724" y="1565" class="g" textLength="165">介護サービス利用自宅退院：B大学</text>
<text x="1724" y="1580" class="g" textLength="58">転院：A病院</text>
<text x="1724" y="1595" class="g" textLength="104">療養病床転院：A病院</text>
<text x="1724" y="1609" class="g" textLength="121">リハビリ病院転院：A病院</text>
</g>
<text x="1437" y="1678" class="b" style="font-size:17px" textLength="473">全く環境の違う2つの病院で、退院先による在院日数はほぼ</text>
<text x="1437" y="1704" class="b" style="font-size:17px" textLength="475">同等であった。自宅退院は転院に比べ、同じ病状であれば、</text>
<text x="1437" y="1728" class="b" style="font-size:17px" textLength="466">在院日数が短くなると予想され、自宅退院を推進することが</text>
<text x="1437" y="1753" class="b" style="font-size:17px" textLength="398">在院日数の短縮につながるという結果が得られた。</text>

<!-- ===== TABLE ===== -->
<text x="1995" y="1161" class="h" style="font-size:20px" textLength="443">日本医療ソーシャルワーカー協会 集約データ項目</text>
<g>
<rect x="1997" y="1171" width="478" height="583" fill="#ffffff" stroke="#5a6478" stroke-width="2"/>
<g stroke="#4a5468" stroke-width="1.6">
<line x1="1997" y1="1344" x2="2475" y2="1344"/><line x1="1997" y1="1390" x2="2475" y2="1390"/>
<line x1="1997" y1="1436" x2="2475" y2="1436"/><line x1="1997" y1="1483" x2="2475" y2="1483"/>
<line x1="1997" y1="1529" x2="2475" y2="1529"/><line x1="1997" y1="1575" x2="2475" y2="1575"/>
<line x1="1997" y1="1622" x2="2475" y2="1622"/>
</g>
<line x1="2146" y1="1173" x2="2146" y2="1621" stroke="#777" stroke-width="1.5" stroke-dasharray="2,5"/>
<text x="2021" y="1264" class="t" textLength="87" lengthAdjust="spacingAndGlyphs">患者基本情報</text>
<text x="2021" y="1374" class="t" textLength="87" lengthAdjust="spacingAndGlyphs">退院後連携先</text>
<text x="2021" y="1420" class="t" textLength="103" lengthAdjust="spacingAndGlyphs">公費・保険情報</text>
<text x="2021" y="1465" class="t" textLength="103" lengthAdjust="spacingAndGlyphs">障害者手帳情報</text>
<text x="2021" y="1512" class="t" textLength="88" lengthAdjust="spacingAndGlyphs">介護保険情報</text>
<text x="2021" y="1558" class="t" textLength="113" lengthAdjust="spacingAndGlyphs">障害福祉サービス</text>
<text x="2021" y="1604" class="t" textLength="58" lengthAdjust="spacingAndGlyphs">委託事業</text>
<text x="2167" y="1203" class="t" textLength="268" lengthAdjust="spacingAndGlyphs">性別、年齢、都道府県名、市町村名、受付日、</text>
<text x="2167" y="1228" class="t" textLength="280" lengthAdjust="spacingAndGlyphs">入退院種別、入院日、入院前生活場所、担当科、</text>
<text x="2167" y="1253" class="t" textLength="273" lengthAdjust="spacingAndGlyphs">病棟、医療ソーシャルワーカーへの依頼の経路、</text>
<text x="2167" y="1277" class="t" textLength="281" lengthAdjust="spacingAndGlyphs">疾患分類（ICD−10）、主病名（ICD−10）、世帯内</text>
<text x="2167" y="1302" class="t" textLength="285" lengthAdjust="spacingAndGlyphs">成人人数キーパーソン、主介護者、退院日、退院診</text>
<text x="2167" y="1328" class="t" textLength="288" lengthAdjust="spacingAndGlyphs">療科、退院病棟、終結日、退院先（連携先）種別</text>
<text x="2167" y="1375" class="t" textLength="178" lengthAdjust="spacingAndGlyphs">連携先種類、開始日、終了日</text>
<text x="2167" y="1421" class="t" textLength="226" lengthAdjust="spacingAndGlyphs">保健種別、負担割合、公費利用状況</text>
<text x="2167" y="1468" class="t" textLength="171" lengthAdjust="spacingAndGlyphs">障害種別、身体種別、等級</text>
<text x="2167" y="1514" class="t" textLength="266" lengthAdjust="spacingAndGlyphs">介護度、更新日、申請中、区分変更申請中</text>
<text x="2167" y="1560" class="t" textLength="111" lengthAdjust="spacingAndGlyphs">程度区分、更新日</text>
<text x="2167" y="1606" class="t" textLength="111" lengthAdjust="spacingAndGlyphs">病名、委託事業名</text>
<text x="2022" y="1657" class="t" textLength="213" lengthAdjust="spacingAndGlyphs">【ソーシャルワーカー実施入力項目】</text>
<text x="2022" y="1679" class="t" textLength="330" lengthAdjust="spacingAndGlyphs">日付、主対象、副対象、対象３、対象４、援助方法、</text>
<text x="2022" y="1703" class="t" textLength="423" lengthAdjust="spacingAndGlyphs">大項目（医療ソーシャルワーカー業務指針項目）、小項目、援助時間、</text>
<text x="2022" y="1725" class="t" textLength="281" lengthAdjust="spacingAndGlyphs">援助回数、委託、診療科、病棟、入院・外来</text>
</g>
</svg>
</body>
</html>
